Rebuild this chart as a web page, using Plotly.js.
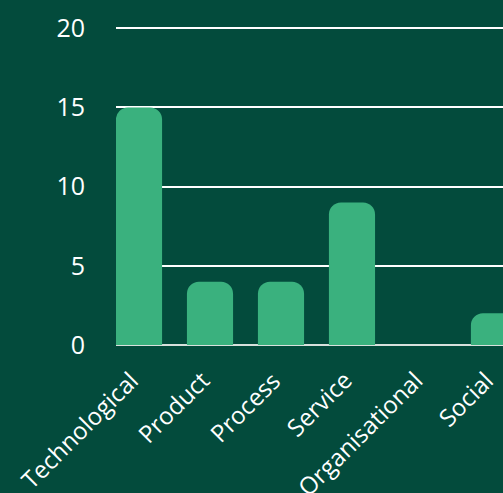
<!DOCTYPE html>
<html>
<head>
<meta charset="utf-8">
<script src="https://cdn.plot.ly/plotly-3.0.1.min.js"></script>
<style>html,body{margin:0;padding:0;background:#034b3c;}#chart{width:503px;height:493px;}</style>
</head>
<body>
<div id="chart"></div>
<script>
const categories = ["Technological", "Product", "Process", "Service", "Organisational", "Social"];
const counts = [15, 4, 4, 9, 0, 2];
const yTicks = [0, 5, 10, 15, 20];

const bg = "#034b3c";
const barColor = "#3ab17e";
const xs = categories.map((c, i) => i);

const trace = {
  type: "bar",
  x: xs,
  y: counts,
  width: 0.65,
  marker: { color: barColor, cornerradius: 12, line: { width: 0 } },
  hoverinfo: "skip"
};

const labelAnnotations = categories.map((c, i) => ({
  x: i, y: 0, xref: "x", yref: "y",
  text: c,
  showarrow: false,
  textangle: -45,
  xanchor: "right",
  yanchor: "top",
  xshift: 9,
  yshift: -16,
  font: { size: 24, color: "#ffffff", family: "Open Sans, sans-serif" }
}));

const layout = {
  width: 503,
  height: 493,
  margin: { l: 116, r: 0, t: 24.83, b: 148 },
  paper_bgcolor: bg,
  plot_bgcolor: bg,
  showlegend: false,
  font: { family: "Open Sans, sans-serif", color: "#ffffff" },
  annotations: labelAnnotations,
  xaxis: {
    range: [-0.324, 5.127],
    tickmode: "array",
    tickvals: xs,
    showticklabels: false,
    ticks: "",
    showgrid: false,
    zeroline: false,
    showline: false
  },
  yaxis: {
    range: [0, 20.2],
    tickmode: "array",
    tickvals: yTicks,
    ticktext: yTicks.map(String),
    showgrid: true,
    gridcolor: "#ffffff",
    gridwidth: 2,
    zeroline: true,
    zerolinecolor: "#d8e0dc",
    zerolinewidth: 2,
    showline: false,
    ticks: "",
    tickfont: { size: 25, color: "#ffffff" },
    ticklabelstandoff: 30
  }
};

Plotly.newPlot("chart", [trace], layout, { displayModeBar: false, staticPlot: true });
</script>
</body>
</html>
